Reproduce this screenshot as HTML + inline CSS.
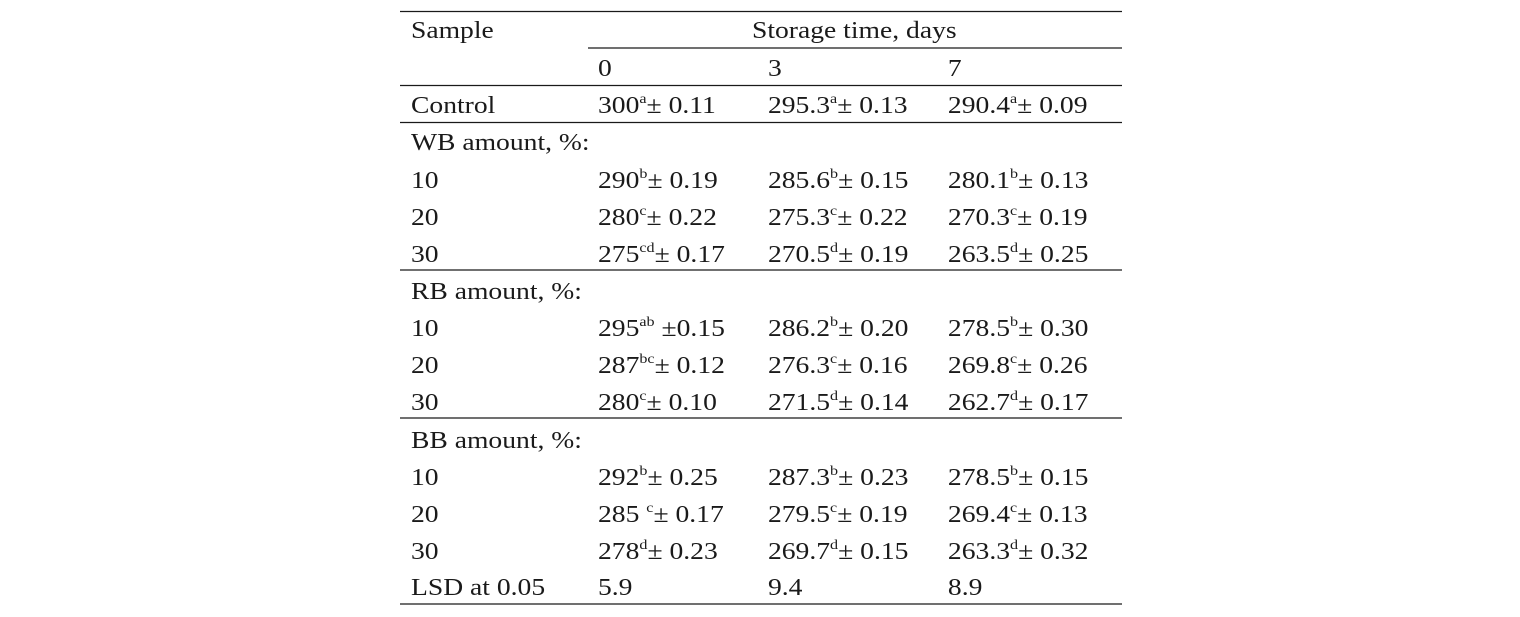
<!DOCTYPE html>
<html><head><meta charset="utf-8"><style>
html,body{margin:0;padding:0;background:#fff;}
svg{display:block;}
text{font-family:"Liberation Serif",serif;font-size:24px;fill:#1a1a1a;}
.s{font-size:14px;}
</style></head><body>
<svg width="1520" height="617" viewBox="0 0 1520 617" xmlns="http://www.w3.org/2000/svg">
<g stroke="#1a1a1a" stroke-width="1.3">
<line x1="400" y1="11.5" x2="1122" y2="11.5"/>
<line x1="588" y1="48" x2="1122" y2="48"/>
<line x1="400" y1="85.5" x2="1122" y2="85.5"/>
<line x1="400" y1="122.5" x2="1122" y2="122.5"/>
<line x1="400" y1="270" x2="1122" y2="270"/>
<line x1="400" y1="418" x2="1122" y2="418"/>
<line x1="400" y1="604" x2="1122" y2="604"/>
</g>
<g transform="scale(1.15,1)">
<text x="357.4" y="38">Sample</text>
<text x="653.9" y="38">Storage time, days</text>
<text x="520" y="76">0</text><text x="667.8" y="76">3</text><text x="824.3" y="76">7</text>

<text x="357.4" y="113">Control</text>
<text x="520" y="113">300<tspan class="s" dy="-10">a</tspan><tspan dy="10">± 0.11</tspan></text>
<text x="667.8" y="113">295.3<tspan class="s" dy="-10">a</tspan><tspan dy="10">± 0.13</tspan></text>
<text x="824.3" y="113">290.4<tspan class="s" dy="-10">a</tspan><tspan dy="10">± 0.09</tspan></text>

<text x="357.4" y="150">WB amount, %:</text>
<text x="357.4" y="188">10</text>
<text x="520" y="188">290<tspan class="s" dy="-10">b</tspan><tspan dy="10">± 0.19</tspan></text>
<text x="667.8" y="188">285.6<tspan class="s" dy="-10">b</tspan><tspan dy="10">± 0.15</tspan></text>
<text x="824.3" y="188">280.1<tspan class="s" dy="-10">b</tspan><tspan dy="10">± 0.13</tspan></text>
<text x="357.4" y="225">20</text>
<text x="520" y="225">280<tspan class="s" dy="-10">c</tspan><tspan dy="10">± 0.22</tspan></text>
<text x="667.8" y="225">275.3<tspan class="s" dy="-10">c</tspan><tspan dy="10">± 0.22</tspan></text>
<text x="824.3" y="225">270.3<tspan class="s" dy="-10">c</tspan><tspan dy="10">± 0.19</tspan></text>
<text x="357.4" y="262">30</text>
<text x="520" y="262">275<tspan class="s" dy="-10">cd</tspan><tspan dy="10">± 0.17</tspan></text>
<text x="667.8" y="262">270.5<tspan class="s" dy="-10">d</tspan><tspan dy="10">± 0.19</tspan></text>
<text x="824.3" y="262">263.5<tspan class="s" dy="-10">d</tspan><tspan dy="10">± 0.25</tspan></text>

<text x="357.4" y="299">RB amount, %:</text>
<text x="357.4" y="336">10</text>
<text x="520" y="336">295<tspan class="s" dy="-10">ab</tspan><tspan dy="10"> ±0.15</tspan></text>
<text x="667.8" y="336">286.2<tspan class="s" dy="-10">b</tspan><tspan dy="10">± 0.20</tspan></text>
<text x="824.3" y="336">278.5<tspan class="s" dy="-10">b</tspan><tspan dy="10">± 0.30</tspan></text>
<text x="357.4" y="373">20</text>
<text x="520" y="373">287<tspan class="s" dy="-10">bc</tspan><tspan dy="10">± 0.12</tspan></text>
<text x="667.8" y="373">276.3<tspan class="s" dy="-10">c</tspan><tspan dy="10">± 0.16</tspan></text>
<text x="824.3" y="373">269.8<tspan class="s" dy="-10">c</tspan><tspan dy="10">± 0.26</tspan></text>
<text x="357.4" y="410">30</text>
<text x="520" y="410">280<tspan class="s" dy="-10">c</tspan><tspan dy="10">± 0.10</tspan></text>
<text x="667.8" y="410">271.5<tspan class="s" dy="-10">d</tspan><tspan dy="10">± 0.14</tspan></text>
<text x="824.3" y="410">262.7<tspan class="s" dy="-10">d</tspan><tspan dy="10">± 0.17</tspan></text>

<text x="357.4" y="448">BB amount, %:</text>
<text x="357.4" y="485">10</text>
<text x="520" y="485">292<tspan class="s" dy="-10">b</tspan><tspan dy="10">± 0.25</tspan></text>
<text x="667.8" y="485">287.3<tspan class="s" dy="-10">b</tspan><tspan dy="10">± 0.23</tspan></text>
<text x="824.3" y="485">278.5<tspan class="s" dy="-10">b</tspan><tspan dy="10">± 0.15</tspan></text>
<text x="357.4" y="522">20</text>
<text x="520" y="522">285 <tspan class="s" dy="-10">c</tspan><tspan dy="10">± 0.17</tspan></text>
<text x="667.8" y="522">279.5<tspan class="s" dy="-10">c</tspan><tspan dy="10">± 0.19</tspan></text>
<text x="824.3" y="522">269.4<tspan class="s" dy="-10">c</tspan><tspan dy="10">± 0.13</tspan></text>
<text x="357.4" y="559">30</text>
<text x="520" y="559">278<tspan class="s" dy="-10">d</tspan><tspan dy="10">± 0.23</tspan></text>
<text x="667.8" y="559">269.7<tspan class="s" dy="-10">d</tspan><tspan dy="10">± 0.15</tspan></text>
<text x="824.3" y="559">263.3<tspan class="s" dy="-10">d</tspan><tspan dy="10">± 0.32</tspan></text>

<text x="357.4" y="595">LSD at 0.05</text>
<text x="520" y="595">5.9</text>
<text x="667.8" y="595">9.4</text>
<text x="824.3" y="595">8.9</text>
</g>
</svg>
</body></html>
